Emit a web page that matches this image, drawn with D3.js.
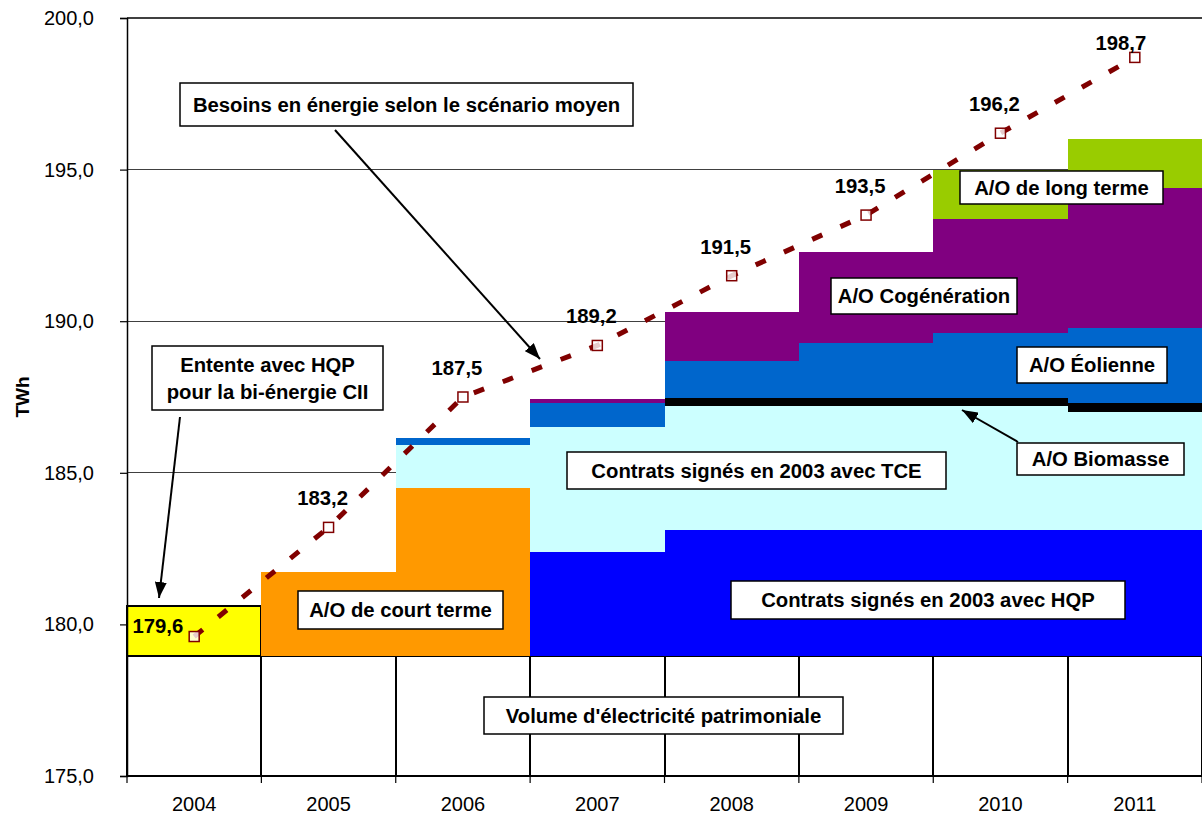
<!DOCTYPE html>
<html><head><meta charset="utf-8">
<script src="https://cdn.jsdelivr.net/npm/d3@7"></script>
<style>body{margin:0;background:#fff}svg{display:block;font-family:"Liberation Sans",Arial,sans-serif}</style>
</head><body><svg id="c" width="1202" height="816"></svg>
<script>
// ---- data ----
const years = ["2004","2005","2006","2007","2008","2009","2010","2011"];
const patrimoniale = [178.95,178.95,178.95,178.95,178.95,178.95,178.95,178.95];
const biEnergie    = [1.67,0,0,0,0,0,0,0];
const courtTerme   = [0,2.77,5.54,0,0,0,0,0];
const hqp          = [0,0,0,3.45,4.16,4.16,4.16,4.16];
const tce          = [0,0,1.43,4.12,4.09,4.09,4.09,3.91];
const biomasse     = [0,0,0,0,0.27,0.27,0.27,0.29];
const eolienne     = [0,0,0.22,0.79,1.22,1.82,2.13,2.48];
const cogeneration = [0,0,0,0.12,1.60,3.00,3.77,4.61];
const longTerme    = [0,0,0,0,0,0,1.62,1.61];
const besoins      = [179.6,183.2,187.5,189.2,191.5,193.5,196.2,198.7];
const yTicks       = [175,180,185,190,195,200];

const seriesKeys = ["patrimoniale","biEnergie","courtTerme","hqp","tce","biomasse","eolienne","cogeneration","longTerme"];
const seriesData = {patrimoniale,biEnergie,courtTerme,hqp,tce,biomasse,eolienne,cogeneration,longTerme};
const colors = {patrimoniale:"#FFFFFF",biEnergie:"#FFFF00",courtTerme:"#FF9900",hqp:"#0000FF",tce:"#CCFFFF",
  biomasse:"#000000",eolienne:"#0066CC",cogeneration:"#800080",longTerme:"#99CC00"};

const table = years.map((yr,i)=>{const r={year:yr};seriesKeys.forEach(k=>r[k]=seriesData[k][i]);return r;});

// ---- layout ----
const W=1202,H=816, L=127,R=1202,T=18,B=776;
const svg=d3.select("#c");
const x=d3.scaleBand().domain(years).range([L,R]).padding(0);
const y=d3.scaleLinear().domain([175,200]).range([B,T]).clamp(true);
const loc=d3.formatLocale({decimal:",",thousands:" ",grouping:[3],currency:["","€"]});
const f1=loc.format(".1f");

svg.append("rect").attr("width",W).attr("height",H).attr("fill","#fff");

// gridlines
svg.append("g").selectAll("line").data(yTicks.filter(d=>d>175)).join("line")
  .attr("x1",L).attr("x2",R).attr("y1",d=>y(d)).attr("y2",d=>y(d))
  .attr("stroke","#404040").attr("stroke-width",1.2).attr("shape-rendering","crispEdges");

// stacked rects
const stacked=d3.stack().keys(seriesKeys)(table);
const gS=svg.append("g").attr("shape-rendering","crispEdges");
stacked.forEach(layer=>{
  const k=layer.key;
  gS.append("g").selectAll("rect").data(layer.filter(d=>d[1]-d[0]>0)).join("rect")
    .attr("x",d=>x(d.data.year)).attr("width",x.bandwidth())
    .attr("y",d=>y(d[1])).attr("height",d=>y(d[0])-y(d[1]))
    .attr("fill",colors[k])
    .attr("stroke",(k==="patrimoniale"||k==="biEnergie")?"#000":"none")
    .attr("stroke-width",2);
});

// axes
const ax=svg.append("g").attr("transform",`translate(${L},0)`)
  .call(d3.axisLeft(y).tickValues(yTicks).tickSize(7).tickPadding(26).tickFormat(f1));
ax.select(".domain").attr("stroke","#000").attr("stroke-width",1.5);
ax.selectAll(".tick line").attr("stroke","#000").attr("stroke-width",1.2);
ax.selectAll("text").attr("font-size",20).attr("fill","#000").attr("font-family","Liberation Sans, Arial, sans-serif");

const bx=svg.append("g").attr("transform",`translate(0,${B})`)
  .call(d3.axisBottom(x).tickSize(0).tickPadding(21));
bx.select(".domain").remove();
bx.selectAll("text").attr("font-size",20).attr("fill","#000").attr("font-family","Liberation Sans, Arial, sans-serif");
svg.append("line").attr("x1",L).attr("x2",R).attr("y1",B).attr("y2",B).attr("stroke","#000").attr("stroke-width",1.5);
svg.append("g").selectAll("line").data(years.map(d=>x(d)).concat([R])).join("line")
  .attr("x1",d=>d).attr("x2",d=>d).attr("y1",B).attr("y2",B+7).attr("stroke","#000").attr("stroke-width",1.2);

svg.append("text").attr("transform","translate(22,397) rotate(-90)").attr("text-anchor","middle")
  .attr("dy","0.35em").attr("font-size",19).attr("font-weight","bold").text("TWh");

// demand line
const cx=d=>x(d)+x.bandwidth()/2;
const pts=years.map((yr,i)=>[cx(yr),y(besoins[i])]);
svg.append("path").attr("d",d3.line()(pts)).attr("fill","none").attr("stroke","#800000")
  .attr("stroke-width",5).attr("stroke-dasharray","11,20");
svg.append("g").selectAll("rect").data(pts).join("rect")
  .attr("x",d=>d[0]-5).attr("y",d=>d[1]-5).attr("width",10).attr("height",10)
  .attr("fill","#fff").attr("fill-opacity",0.8).attr("stroke","#800000").attr("stroke-width",1.5);
svg.append("g").selectAll("text").data(besoins).join("text")
  .attr("x",(d,i)=>i===0?pts[i][0]-11:(i===7?pts[i][0]-14:pts[i][0]-6))
  .attr("y",(d,i)=>i===0?pts[i][1]-3.5:(i===7?pts[i][1]-7:pts[i][1]-22))
  .attr("text-anchor",(d,i)=>i===0?"end":"middle")
  .attr("font-size",20.3).attr("font-weight","bold").text(d=>f1(d));

// arrows
const defs=svg.append("defs");
defs.append("marker").attr("id","ah").attr("markerUnits","userSpaceOnUse")
  .attr("viewBox","0 0 16 12").attr("refX",16).attr("refY",6).attr("markerWidth",16).attr("markerHeight",12)
  .attr("orient","auto").append("path").attr("d","M0,0 L16,6 L0,12 Z").attr("fill","#000");
const arrows=[[335,130,540,359],[180,417,159,598],[1018,442,962,410]];
svg.append("g").selectAll("line").data(arrows).join("line")
  .attr("x1",d=>d[0]).attr("y1",d=>d[1]).attr("x2",d=>d[2]).attr("y2",d=>d[3])
  .attr("stroke","#000").attr("stroke-width",2).attr("marker-end","url(#ah)");

// annotation boxes
const boxes=[
  {b:[180,83,633,126],t:["Besoins en énergie selon le scénario moyen"]},
  {b:[152,346,383,410],t:["Entente avec HQP","pour la bi-énergie CII"]},
  {b:[298,591,503,629],t:["A/O de court terme"]},
  {b:[567,452,946,489],t:["Contrats signés en 2003 avec TCE"]},
  {b:[731,581,1125,619],t:["Contrats signés en 2003 avec HQP"]},
  {b:[484,697,843,734],t:["Volume d'électricité patrimoniale"]},
  {b:[831,278,1017,314],t:["A/O Cogénération"]},
  {b:[1017,347,1167,383],t:["A/O Éolienne"]},
  {b:[960,171,1163,204],t:["A/O de long terme"]},
  {b:[1017,443,1184,475],t:["A/O Biomasse"]}
];
const gb=svg.append("g");
boxes.forEach(o=>{
  const [x0,y0,x1,y1]=o.b;
  gb.append("rect").attr("x",x0).attr("y",y0).attr("width",x1-x0).attr("height",y1-y0)
    .attr("fill","#fff").attr("stroke","#000").attr("stroke-width",1.5);
  const n=o.t.length, lh=27, mid=(y0+y1)/2;
  o.t.forEach((s,i)=>{
    gb.append("text").attr("x",(x0+x1)/2).attr("y",mid+(i-(n-1)/2)*lh).attr("dy","0.36em")
      .attr("text-anchor","middle").attr("font-size",20.3).attr("font-weight","bold").text(s);
  });
});
</script></body></html>
